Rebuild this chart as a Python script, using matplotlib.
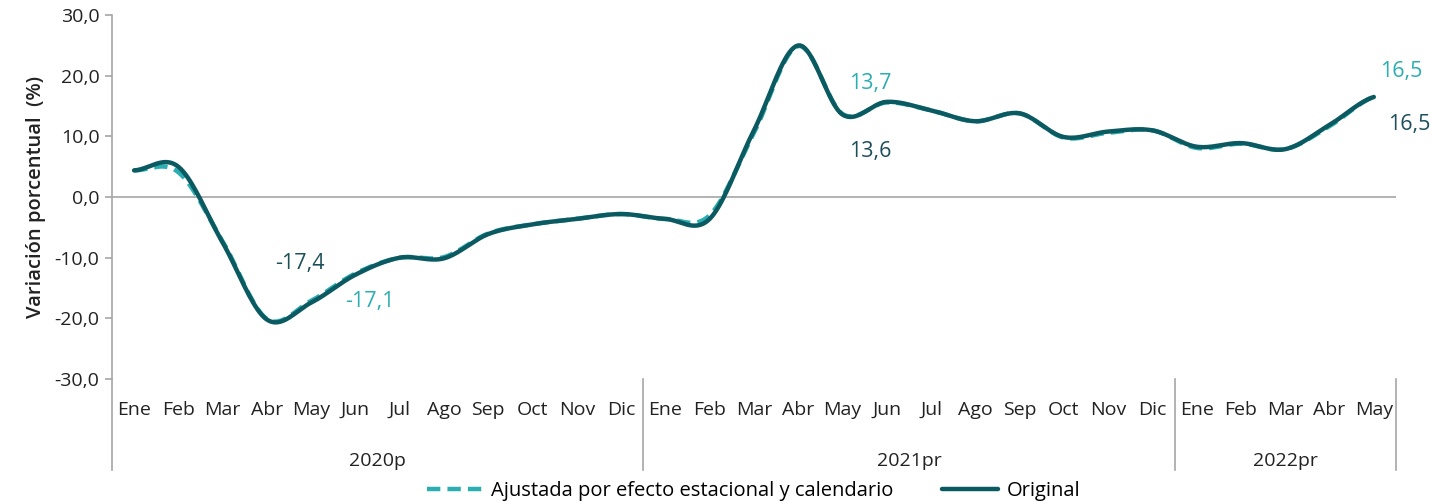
import numpy as np
import matplotlib.pyplot as plt
from matplotlib.transforms import blended_transform_factory

plt.rcParams['font.family'] = ['Open Sans', 'DejaVu Sans']

meses = ['Ene', 'Feb', 'Mar', 'Abr', 'May', 'Jun', 'Jul', 'Ago', 'Sep', 'Oct', 'Nov', 'Dic']
anios = ['2020p', '2021pr', '2022pr']
meses_por_anio = [12, 12, 5]

original = [4.4, 5.0, -7.5, -20.2, -17.4, -12.8, -10.0, -10.1, -6.1, -4.5, -3.6, -2.8,
            -3.6, -3.6, 11.0, 25.0, 13.6, 15.7, 14.3, 12.5, 13.8, 9.9, 10.8, 11.0,
            8.3, 8.9, 7.9, 11.9, 16.5]
ajustada = [4.4, 4.1, -7.3, -20.1, -17.1, -12.6, -10.0, -9.9, -6.0, -4.5, -3.6, -2.8,
            -3.6, -3.0, 10.6, 24.9, 13.7, 15.6, 14.3, 12.5, 13.8, 9.8, 10.6, 11.0,
            8.1, 8.8, 7.9, 11.7, 16.5]

c_orig = '#0b5a62'
c_ajus = '#2aaeb2'
c_txt = '#222222'


def suave(y, n=20):
    # curva tipo Catmull-Rom como las lineas suavizadas de Excel
    y = np.asarray(y, float)
    p = np.concatenate([[y[0]], y, [y[-1]]])
    xs, ys = [], []
    for i in range(len(y) - 1):
        p0, p1, p2, p3 = p[i], p[i + 1], p[i + 2], p[i + 3]
        t = np.linspace(0, 1, n, endpoint=False)
        yy = 0.5 * ((2 * p1) + (-p0 + p2) * t + (2 * p0 - 5 * p1 + 4 * p2 - p3) * t**2
                    + (-p0 + 3 * p1 - 3 * p2 + p3) * t**3)
        xs.append(i + t)
        ys.append(yy)
    xs.append([len(y) - 1])
    ys.append([y[-1]])
    return np.concatenate(xs), np.concatenate(ys)


fig = plt.figure(figsize=(14.35, 5.04), dpi=100)
ax = fig.add_axes([0.078, 0.248, 0.8948, 0.722])

x_o, y_o = suave(original)
x_a, y_a = suave(ajustada)
ax.plot(x_a, y_a, color=c_ajus, lw=3.2, dashes=(3, 1.6), solid_capstyle='butt',
        label='Ajustada por efecto estacional y calendario', zorder=2)
ax.plot(x_o, y_o, color=c_orig, lw=3.2, solid_capstyle='round',
        label='Original', zorder=3)

n = len(original)
ax.set_xlim(-0.5, n - 0.5)
ax.set_ylim(-30, 30)
ax.set_yticks(np.arange(-30, 31, 10))
ax.set_yticklabels([f'{v:.1f}'.replace('.', ',') for v in np.arange(-30, 31, 10)],
                   fontsize=14, color=c_txt)
ax.axhline(0, color='#a6a6a6', lw=1.2, zorder=1)

for s in ['top', 'right', 'bottom']:
    ax.spines[s].set_visible(False)
ax.spines['left'].set_color('#a6a6a6')
ax.spines['left'].set_linewidth(1.2)
ax.tick_params(axis='y', length=5, color='#a6a6a6', width=1.2, pad=4)

ax.set_xticks(range(n))
etiquetas = [meses[i % 12] for i in range(n)]
ax.set_xticklabels(etiquetas, fontsize=14, color=c_txt)
ax.tick_params(axis='x', length=0, pad=16)

ax.set_ylabel('Variación porcentual  (%)', fontsize=14.5, fontweight='semibold',
              color=c_txt, labelpad=6)

# separadores y etiquetas de año
tr = blended_transform_factory(ax.transData, ax.transAxes)
bordes = np.concatenate([[0], np.cumsum(meses_por_anio)]) - 0.5
for b in bordes:
    ax.plot([b, b], [0, -0.25], transform=tr, color='#a6a6a6', lw=1.2, clip_on=False)
for i, a in enumerate(anios):
    ax.text((bordes[i] + bordes[i + 1]) / 2, -0.225, a, transform=tr, ha='center',
            va='center', fontsize=14, color=c_txt)

# etiquetas de datos
def fmt(v):
    return f'{v:.1f}'.replace('.', ',')

etiq = [(4, (59, -1), (-11, 39)), (16, (28, 30), (28, -37)), (28, (27, 25), (35, -28))]
for i, off_a, off_o in etiq:
    ax.annotate(fmt(ajustada[i]), (i, ajustada[i]), xytext=off_a, textcoords='offset pixels',
                ha='center', va='center', fontsize=15.5, color=c_ajus)
    ax.annotate(fmt(original[i]), (i, original[i]), xytext=off_o, textcoords='offset pixels',
                ha='center', va='center', fontsize=15.5, color='#1d4f5a')

fig.legend(loc='center', bbox_to_anchor=(0.525, 0.026), ncol=2, frameon=False,
           fontsize=14.5, handlelength=2.8, columnspacing=2.4, handletextpad=0.4)

fig.savefig('out.png', dpi=100)
